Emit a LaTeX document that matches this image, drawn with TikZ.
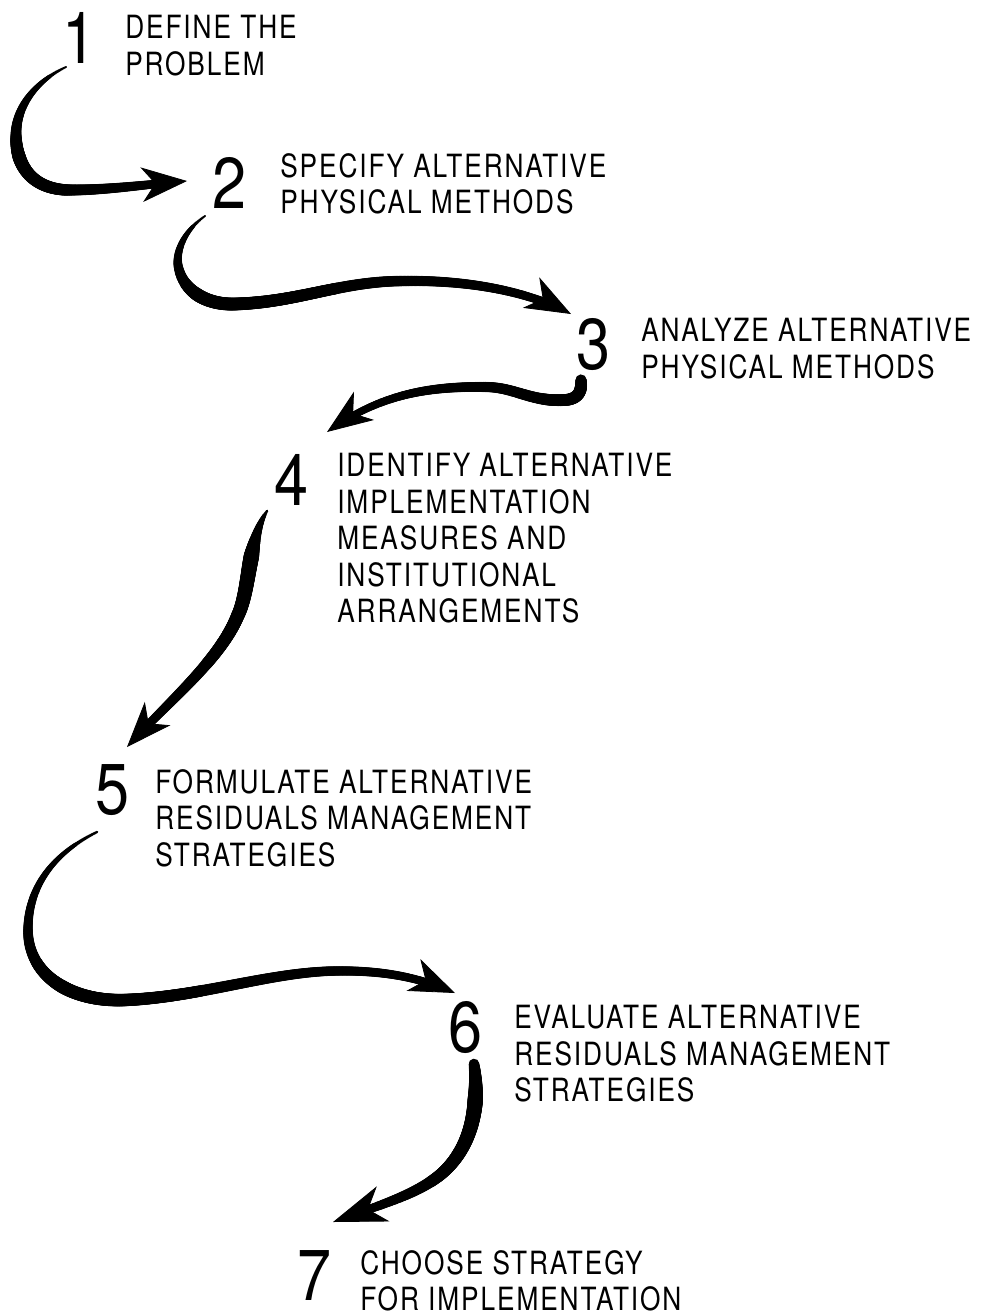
\documentclass[tikz,border=0pt]{standalone}
\usepackage{fontspec}
\setmainfont[FakeStretch=0.82,LetterSpace=6]{TeX Gyre Heros}
\newfontfamily\digitfont[FakeStretch=0.85]{TeX Gyre Heros}
\usetikzlibrary{arrows.meta,decorations.markings}
\tikzset{
  steplabel/.style={anchor=north west, inner sep=0pt, align=left, font=\fontsize{24}{27.4}\selectfont},
  stepnum/.style={inner sep=0pt, font=\digitfont\fontsize{54}{54}\selectfont},
  % tapered brush stroke: #1 start radius, #2 max radius, #3 fraction of max, #4 end radius (pt)
  brushstroke/.style n args={4}{line width=0.6pt,
    decoration={markings,
      mark=between positions 0 and -16pt step 0.6pt with {
        \pgfmathsetmacro\brT{\pgfkeysvalueof{/pgf/decoration/mark info/distance from start}/\pgfdecoratedpathlength}
        \pgfmathsetmacro\brR{max(0.3,min(#1+(#2-#1)*\brT/#3, #2-(#2-#4)*(\brT-#3)/(1-#3)))}
        \fill (0,0) circle[radius=\brR pt];
      }},
    postaction={decorate}},
  head/.style={-{Stealth[length=34pt,width=26pt,inset=10pt]}},
  bighead/.style={-{Stealth[length=40pt,width=28pt,inset=12pt]}},
}
\begin{document}
\begin{tikzpicture}[x=0.75pt,y=-0.75pt]
\useasboundingbox (0,0) rectangle (992,1315);
% numbers
\node[stepnum] (n1) at (80,38) {1};
\node[stepnum] (n2) at (230,183) {2};
\node[stepnum] (n3) at (594,345) {3};
\node[stepnum] (n4) at (292,480) {4};
\node[stepnum] (n5) at (113,790) {5};
\node[stepnum] (n6) at (466,1028) {6};
\node[stepnum] (n7) at (315,1275) {7};
% labels
\node[steplabel] (t1) at (125,15) {DEFINE THE\\PROBLEM};
\node[steplabel] (t2) at (280,153) {SPECIFY ALTERNATIVE\\PHYSICAL METHODS};
\node[steplabel] (t3) at (641,318) {ANALYZE ALTERNATIVE\\PHYSICAL METHODS};
\node[steplabel] (t4) at (337,453) {IDENTIFY ALTERNATIVE\\IMPLEMENTATION\\MEASURES AND\\INSTITUTIONAL\\ARRANGEMENTS};
\node[steplabel] (t5) at (155,769) {FORMULATE ALTERNATIVE\\RESIDUALS MANAGEMENT\\STRATEGIES};
\node[steplabel] (t6) at (514,1005) {EVALUATE ALTERNATIVE\\RESIDUALS MANAGEMENT\\STRATEGIES};
\node[steplabel] (t7) at (360,1250) {CHOOSE STRATEGY\\FOR IMPLEMENTATION};
% connector end points
\coordinate (a1s) at (66,67);   \coordinate (a1e) at (187,181);
\coordinate (a2s) at (205,216); \coordinate (a2e) at (571,314);
\coordinate (a3s) at (581,380); \coordinate (a3e) at (327,432);
\coordinate (a4s) at (267,511); \coordinate (a4e) at (127,747);
\coordinate (a5s) at (97,832);  \coordinate (a5e) at (455,993);
\coordinate (a6s) at (474,1064); \coordinate (a6e) at (333,1222);
% arrow 1 -> 2
\draw[brushstroke={0.8}{5}{0.38}{2.8}, head]
  (a1s) .. controls (38,80) and (16,105) .. (16,135)
        .. controls (16,172) and (38,190) .. (70,190)
        .. controls (110,190) and (150,184) .. (a1e);
% arrow 2 -> 3
\draw[brushstroke={0.8}{5}{0.2}{3}, head]
  (a2s) .. controls (185,230) and (176,250) .. (178,265)
        .. controls (182,290) and (205,305) .. (235,304)
        .. controls (300,302) and (340,281) .. (405,281)
        .. controls (470,280) and (530,292) .. (a2e);
% arrow 3 -> 4
\draw[brushstroke={4.2}{4.6}{0.03}{2.5}, head]
  (a3s) .. controls (582,392) and (578,399) .. (565,400)
        .. controls (530,402) and (515,387) .. (485,387)
        .. controls (420,386) and (375,398) .. (a3e);
% arrow 4 -> 5
\draw[brushstroke={1}{5.8}{0.17}{2.8}, head]
  (a4s) .. controls (248,540) and (250,590) .. (238,615)
        .. controls (220,660) and (170,700) .. (a4e);
% arrow 5 -> 6
\draw[brushstroke={1}{5}{0.33}{2.9}, head]
  (a5s) .. controls (50,855) and (28,890) .. (28,930)
        .. controls (28,975) and (70,1002) .. (125,1000)
        .. controls (200,997) and (270,972) .. (335,971)
        .. controls (390,970) and (425,980) .. (a5e);
% arrow 6 -> 7
\draw[brushstroke={4}{5.8}{0.15}{2.6}, bighead]
  (a6s) .. controls (480,1110) and (470,1150) .. (440,1175)
        .. controls (415,1195) and (380,1205) .. (a6e);
\end{tikzpicture}
\end{document}
